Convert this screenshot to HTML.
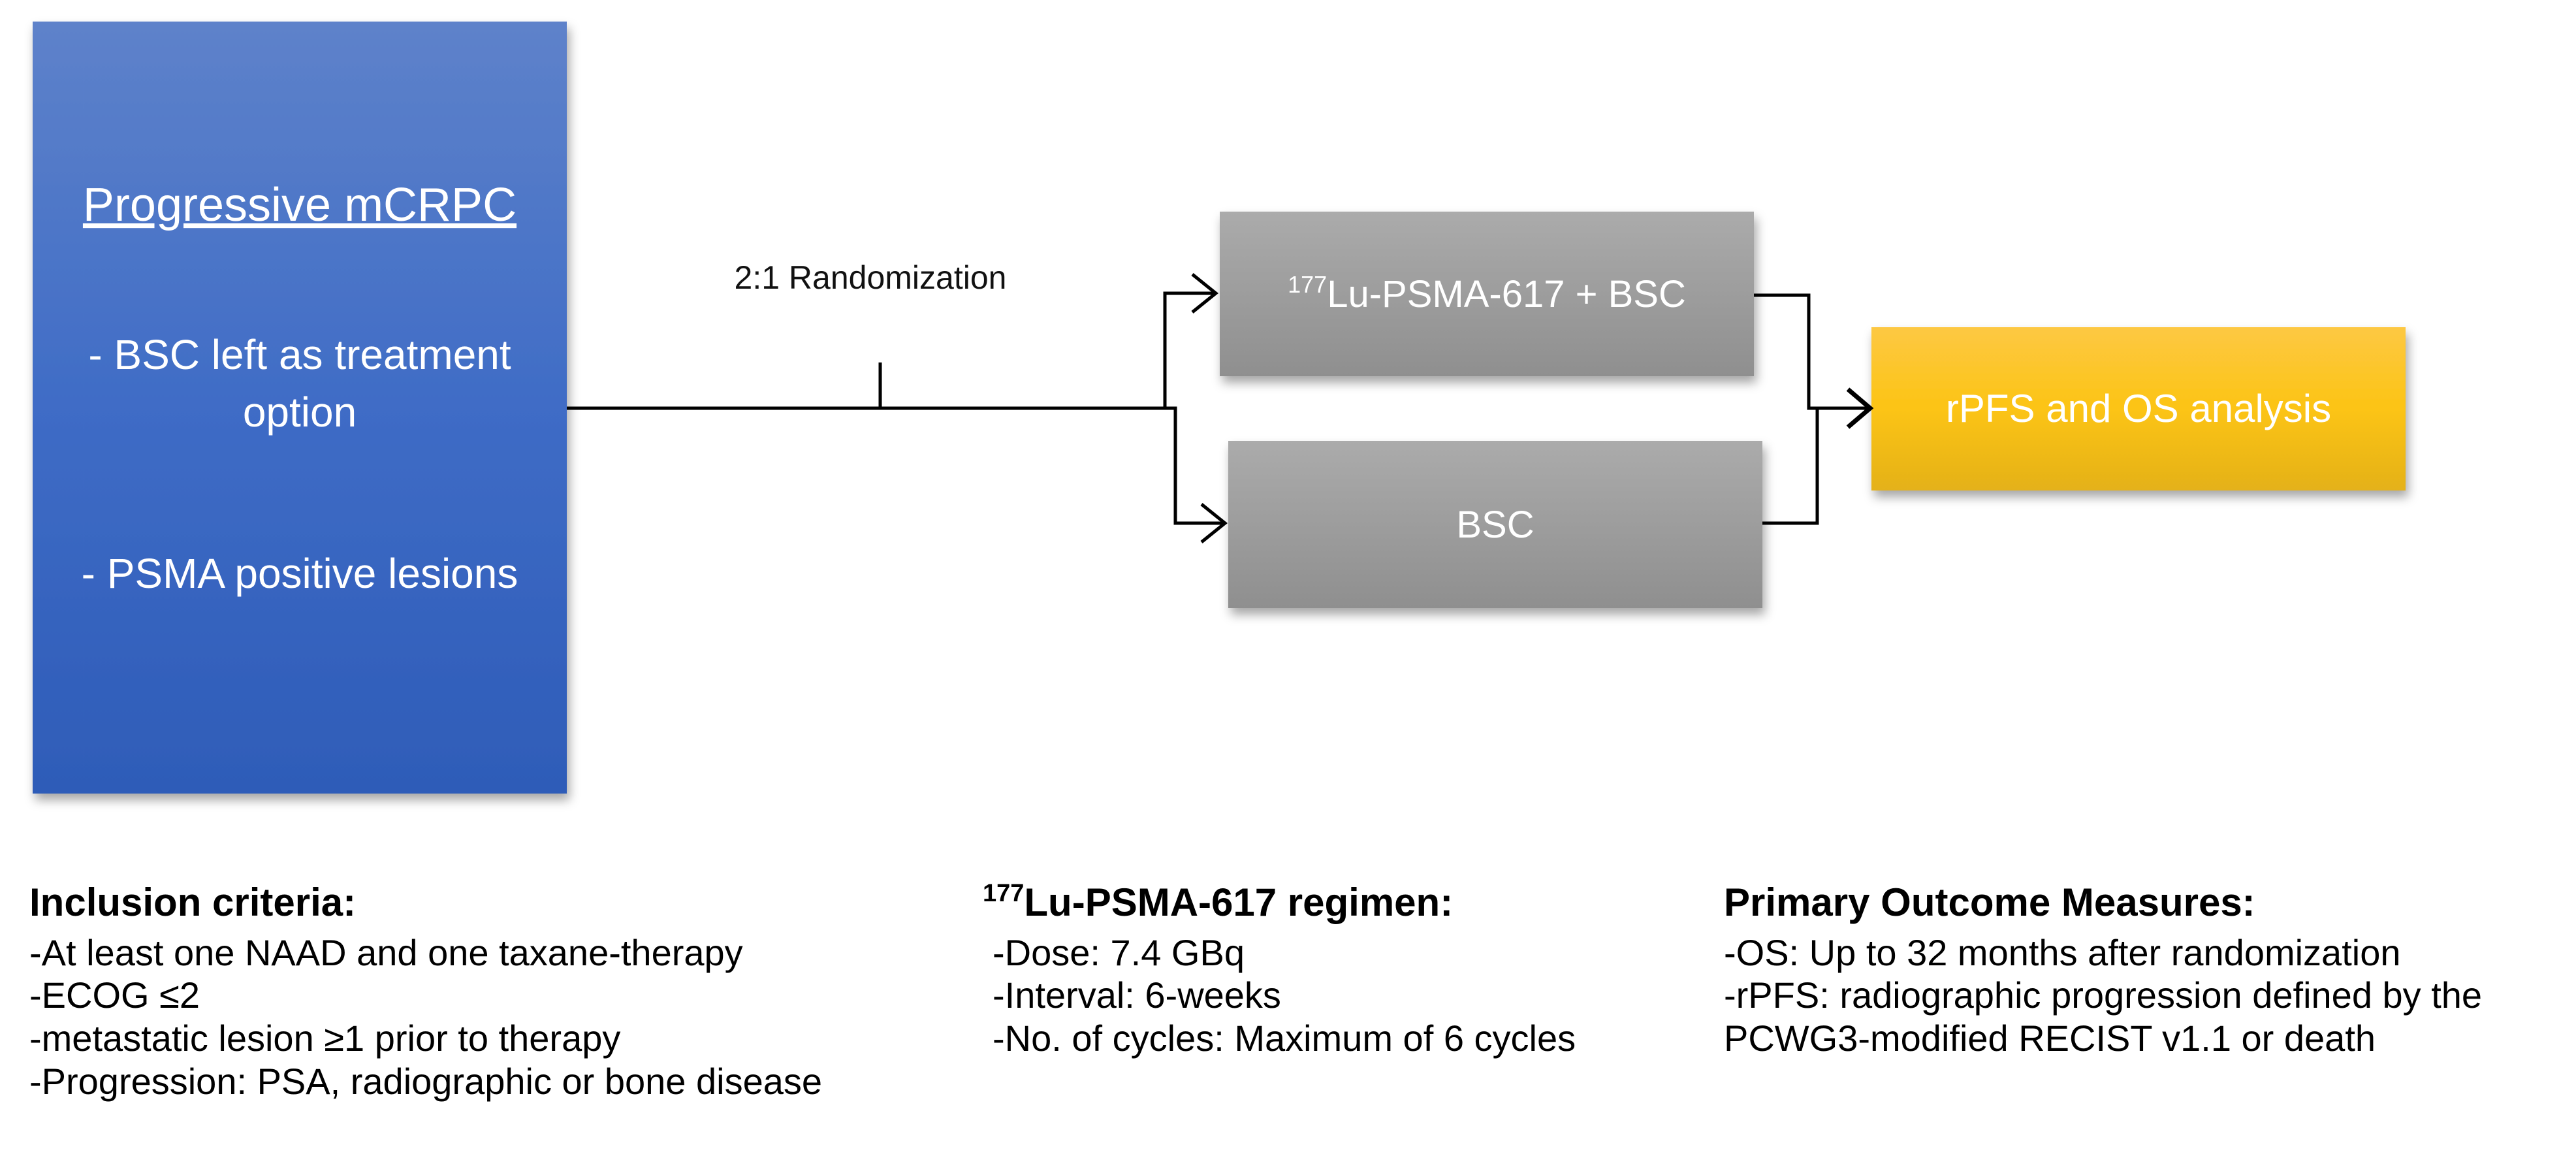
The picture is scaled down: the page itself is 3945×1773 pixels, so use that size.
<!DOCTYPE html>
<html><head><meta charset="utf-8"><style>
html,body{margin:0;padding:0;background:#fff;}
svg{display:block;}
text{font-family:"Liberation Sans",sans-serif;}
</style></head><body>
<svg width="3945" height="1773" viewBox="0 0 3945 1773" xmlns="http://www.w3.org/2000/svg">
<defs>
<linearGradient id="gb" x1="0" y1="0" x2="0" y2="1"><stop offset="0" stop-color="#5e82ca"/><stop offset="0.5" stop-color="#3f6cc6"/><stop offset="1" stop-color="#2e5cb8"/></linearGradient>
<linearGradient id="gg" x1="0" y1="0" x2="0" y2="1"><stop offset="0" stop-color="#ababab"/><stop offset="1" stop-color="#8f8f8f"/></linearGradient>
<linearGradient id="gy" x1="0" y1="0" x2="0" y2="1"><stop offset="0" stop-color="#fdc843"/><stop offset="0.5" stop-color="#fcc414"/><stop offset="1" stop-color="#e4b11a"/></linearGradient>
<filter id="sh" x="-10%" y="-10%" width="130%" height="130%"><feDropShadow dx="4" dy="10" stdDeviation="8" flood-color="#000" flood-opacity="0.35"/></filter>
</defs>
<rect x="50" y="33" width="818" height="1182" fill="url(#gb)" filter="url(#sh)"/>
<rect x="1868" y="324" width="818" height="252" fill="url(#gg)" filter="url(#sh)"/>
<rect x="1881" y="675" width="818" height="256" fill="url(#gg)" filter="url(#sh)"/>
<rect x="2866" y="501" width="818" height="250" fill="url(#gy)" filter="url(#sh)"/>

<g fill="#fff" text-anchor="middle">
<text x="459" y="338" font-size="72" text-decoration="underline">Progressive mCRPC</text>
<text x="459" y="565" font-size="64">- BSC left as treatment</text>
<text x="459" y="653" font-size="64">option</text>
<text x="459" y="900" font-size="64">- PSMA positive lesions</text>
<text x="2277" y="470" font-size="58"><tspan font-size="36" dy="-22">177</tspan><tspan dy="22">Lu-PSMA-617 + BSC</tspan></text>
<text x="2290" y="823" font-size="58">BSC</text>
<text x="3275" y="646" font-size="60">rPFS and OS analysis</text>
</g>
<text x="1333" y="442" font-size="50" text-anchor="middle" fill="#111">2:1 Randomization</text>

<g stroke="#000" stroke-width="5" fill="none">
<path d="M868 625 H1800 V801 H1872"/>
<path d="M1784 625 V449 H1860"/>
<path d="M1348 555 V625"/>
<path d="M1826 420 L1862 449 L1826 478"/>
<path d="M1840 772 L1876 801 L1840 830"/>
<path d="M2686 452 H2770 V625 H2860"/>
<path d="M2699 801 H2783 V625"/>
<path d="M2830 596 L2864 625 L2830 654" stroke-width="7"/>
</g>

<g fill="#000" font-size="56">
<text x="45" y="1402" font-weight="bold" font-size="60">Inclusion criteria:</text>
<text x="45" y="1478">-At least one NAAD and one taxane-therapy</text>
<text x="45" y="1543">-ECOG ≤2</text>
<text x="45" y="1609">-metastatic lesion ≥1 prior to therapy</text>
<text x="45" y="1675">-Progression: PSA, radiographic or bone disease</text>

<text x="1505" y="1402" font-weight="bold" font-size="60"><tspan font-size="38" dy="-22">177</tspan><tspan dy="22">Lu-PSMA-617 regimen:</tspan></text>
<text x="1520" y="1478">-Dose: 7.4 GBq</text>
<text x="1520" y="1543">-Interval: 6-weeks</text>
<text x="1520" y="1609">-No. of cycles: Maximum of 6 cycles</text>

<text x="2640" y="1402" font-weight="bold" font-size="60">Primary Outcome Measures:</text>
<text x="2640" y="1478">-OS: Up to 32 months after randomization</text>
<text x="2640" y="1543">-rPFS: radiographic progression defined by the</text>
<text x="2640" y="1609">PCWG3-modified RECIST v1.1 or death</text>
</g>
</svg>
</body></html>
